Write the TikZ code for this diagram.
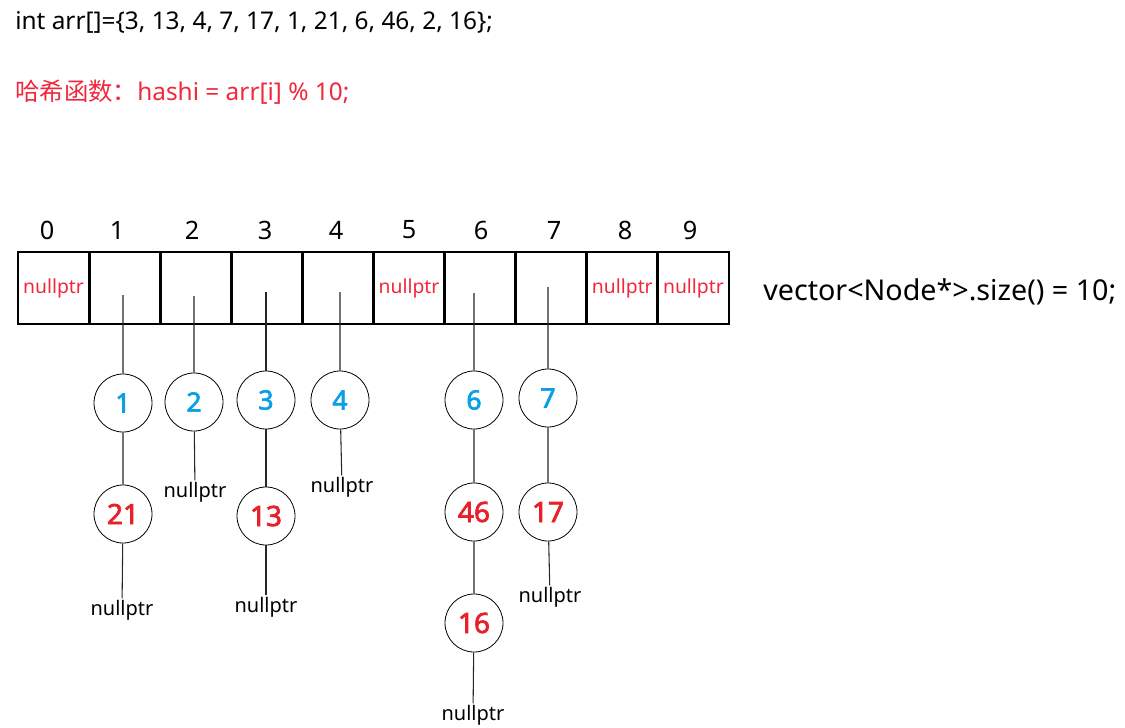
\documentclass[tikz,border=0pt]{standalone}
\usepackage{fontspec}
\setmainfont{Noto Sans}[AutoFakeBold=2.5]
\newfontfamily\cjkfont{Noto Sans CJK SC}
\usetikzlibrary{positioning}
\definecolor{hashred}{HTML}{F0283C}
\definecolor{keyblue}{HTML}{0AA0E6}
\definecolor{keyred}{HTML}{E8202A}

\tikzset{
  slot/.style={draw, line width=2.2pt, minimum width=53.3pt, minimum height=54pt, inner sep=0pt},
  bucket/.style={circle, draw, line width=0.6pt, minimum size=43.5pt, inner sep=0pt},
  link/.style={line width=0.8pt, draw=black!85},
  nil/.style={inner sep=1pt, font=\fontsize{15}{15}\selectfont},
  cellnil/.style={inner sep=0pt, text=hashred, font=\fontsize{14.5}{14.5}\selectfont},
  big/.style={font=\fontsize{18.3}{18.3}\selectfont}
}

\begin{document}
\begin{tikzpicture}[x=0.75pt, y=-0.75pt]
    \useasboundingbox (0,0) rectangle (1125,728);

    % header lines
    \node[big, anchor=west, inner sep=0pt] (arr) at (15,22) {int arr[]=\{3, 13, 4, 7, 17, 1, 21, 6, 46, 2, 16\};};
    \node[big, anchor=west, inner sep=0pt, text=hashred] (hash) at (15,92) {{\cjkfont 哈希函数：}hashi = arr[i] \% 10;};

    % the buckets
    \foreach \i in {0,...,9}
        \node[slot] (cell\i) at ({53.55+71.1*\i},288) {};
    \foreach \i/\x in {0/47, 1/117, 2/192, 3/265, 4/336, 5/409, 6/481, 7/554, 8/625, 9/690}
        \node[font=\fontsize{19}{19}\selectfont] (idx\i) at (\x,230) {\i};
    \foreach \i in {0,5,8,9}
        \node[cellnil] (nil\i) at (cell\i) {nullptr};
    \node[anchor=west, inner sep=0pt, font=\fontsize{21.5}{21.5}\selectfont] (size) at (763,292) {vector<Node*>.size() = 10;};

    % chain 1
    \coordinate (s1) at (123,295);
    \node[bucket, text=keyblue, font=\bfseries\fontsize{20}{20}\selectfont] (k1) at (123,403) {1};
    \node[bucket, text=keyred, font=\bfseries\fontsize{21}{21}\selectfont] (k21) at (123,514) {21};
    \node[nil] (n21) at (122,610) {nullptr};
    \draw[link] (s1) -- (k1) (k1) -- (k21) (k21) -- (n21);

    % chain 2
    \coordinate (s2) at (194,296);
    \node[bucket, text=keyblue, font=\bfseries\fontsize{20}{20}\selectfont] (k2) at (194,402) {2};
    \node[nil] (n2) at (195,492) {nullptr};
    \draw[link] (s2) -- (k2) (k2) -- (n2);

    % chain 3
    \coordinate (s3) at (266,292);
    \node[bucket, text=keyblue, font=\bfseries\fontsize{20}{20}\selectfont] (k3) at (266,400) {3};
    \node[bucket, text=keyred, font=\bfseries\fontsize{21}{21}\selectfont] (k13) at (266,516) {13};
    \node[nil] (n13) at (266,607) {nullptr};
    \draw[link] (s3) -- (k3) (k3) -- (k13) (k13) -- (n13);

    % chain 4
    \coordinate (s4) at (340,292);
    \node[bucket, text=keyblue, font=\bfseries\fontsize{20}{20}\selectfont] (k4) at (340,400) {4};
    \node[nil] (n4) at (342,487) {nullptr};
    \draw[link] (s4) -- (k4) (k4) -- (n4);

    % chain 6
    \coordinate (s6) at (474,293);
    \node[bucket, text=keyblue, font=\bfseries\fontsize{20}{20}\selectfont] (k6) at (474,400) {6};
    \node[bucket, text=keyred, font=\bfseries\fontsize{21}{21}\selectfont] (k46) at (474,512) {46};
    \node[bucket, text=keyred, font=\bfseries\fontsize{21}{21}\selectfont] (k16) at (474,623) {16};
    \node[nil] (n16) at (473,715) {nullptr};
    \draw[link] (s6) -- (k6) (k6) -- (k46) (k46) -- (k16) (k16) -- (n16);

    % chain 7
    \coordinate (s7) at (548,287);
    \node[bucket, text=keyblue, font=\bfseries\fontsize{20}{20}\selectfont] (k7) at (548,398) {7};
    \node[bucket, text=keyred, font=\bfseries\fontsize{21}{21}\selectfont] (k17) at (548,512) {17};
    \node[nil] (n17) at (550,597) {nullptr};
    \draw[link] (s7) -- (k7) (k7) -- (k17) (k17) -- (n17);
\end{tikzpicture}
\end{document}
